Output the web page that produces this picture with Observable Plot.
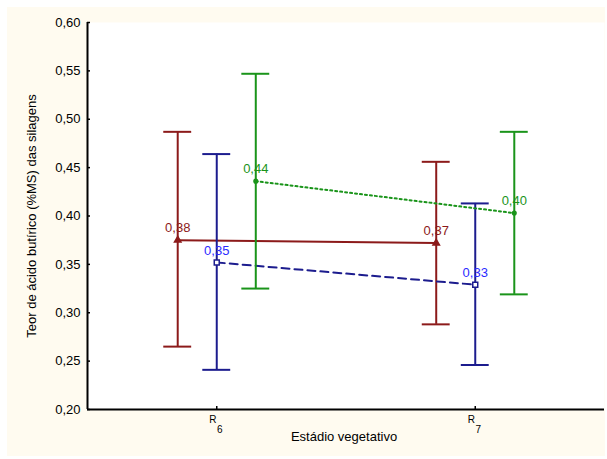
<!DOCTYPE html>
<html><head><meta charset="utf-8">
<script src="https://cdn.jsdelivr.net/npm/d3@7"></script>
<script src="https://cdn.jsdelivr.net/npm/@observablehq/plot@0.6"></script>
<style>
html,body{margin:0;padding:0;background:#fff;}
#wrap{position:relative;width:607px;height:459px;background:#fff;overflow:hidden;}
#bg{position:absolute;left:7px;top:7px;width:598px;height:449px;background:#fffbf0;}
#chart{position:absolute;left:0;top:0;}
</style></head><body>
<div id="wrap"><div id="bg"></div><div id="chart"></div></div>
<script>
// ---- data ----
const categories = ["R6", "R7"];
const catBase = ["R", "R"];
const catSub = ["6", "7"];
const seriesNames = ["S1", "S2", "S3"];

const meanS1 = [0.375, 0.372];
const upperS1 = [0.487, 0.456];
const lowerS1 = [0.265, 0.288];
const labelS1 = ["0,38", "0,37"];

const meanS2 = [0.352, 0.329];
const upperS2 = [0.464, 0.413];
const lowerS2 = [0.241, 0.246];
const labelS2 = ["0,35", "0,33"];

const meanS3 = [0.436, 0.403];
const upperS3 = [0.547, 0.487];
const lowerS3 = [0.325, 0.319];
const labelS3 = ["0,44", "0,40"];

const yTicks = [0.20, 0.25, 0.30, 0.35, 0.40, 0.45, 0.50, 0.55, 0.60];
const yTitle = "Teor de ácido butírico (%MS) das silagens";
const xTitle = "Estádio vegetativo";

// ---- build ----
const seriesData = [
  {mean: meanS1, upper: upperS1, lower: lowerS1, label: labelS1},
  {mean: meanS2, upper: upperS2, lower: lowerS2, label: labelS2},
  {mean: meanS3, upper: upperS3, lower: lowerS3, label: labelS3}
];
const offsets = [-0.151, 0, 0.151];
const styles = [
  {stroke: "#8c1a1a", text: "#8c1a1a", dash: null, symbol: "triangle", r: 2.4, fill: "#8c1a1a"},
  {stroke: "#1c1c8e", text: "#2b2bff", dash: "8,5", symbol: "square", r: 2.8, fill: "white"},
  {stroke: "#1a941a", text: "#1a941a", dash: "2,3", symbol: "circle", r: 1.8, fill: "#1a941a"}
];
const cap = 0.054;

const rowsBySeries = seriesNames.map((s, i) =>
  categories.map((c, j) => ({
    series: s, cat: c, x: j + offsets[i],
    mean: seriesData[i].mean[j], hi: seriesData[i].upper[j], lo: seriesData[i].lower[j],
    label: seriesData[i].label[j]
  }))
);
const xRows = categories.map((c, j) => ({pos: j, base: catBase[j], sub: catSub[j]}));

const font = "'Liberation Sans', Arial, sans-serif";
const marks = [
  Plot.frame({fill: "white", stroke: "none"})
];
rowsBySeries.forEach((rows, i) => {
  const st = styles[i];
  marks.push(
    Plot.ruleX(rows, {x: "x", y1: "lo", y2: "hi", stroke: st.stroke, strokeWidth: 2}),
    Plot.ruleY(rows, {y: "hi", x1: d => d.x - cap, x2: d => d.x + cap, stroke: st.stroke, strokeWidth: 2}),
    Plot.ruleY(rows, {y: "lo", x1: d => d.x - cap, x2: d => d.x + cap, stroke: st.stroke, strokeWidth: 2}),
    Plot.line(rows, {x: "x", y: "mean", stroke: st.stroke, strokeWidth: 2, strokeDasharray: st.dash}),
    Plot.dot(rows, {x: "x", y: "mean", symbol: st.symbol, r: st.r, fill: st.fill, stroke: st.stroke, strokeWidth: 1.5}),
    Plot.text(rows, {x: "x", y: "mean", text: "label", dy: -12, fill: st.text, fontSize: 13, fontFamily: font})
  );
});
marks.push(
  Plot.ruleX([-0.5], {stroke: "black", strokeWidth: 2}),
  Plot.ruleY([0.2], {stroke: "black", strokeWidth: 2}),
  Plot.axisY({ticks: yTicks, tickFormat: d => d3.format(".2f")(d).replace(".", ","), tickSize: -3, tickPadding: 10, fontSize: 13, label: null, stroke: "black", strokeWidth: 1.5}),
  Plot.axisX({ticks: [0, 1], tickFormat: () => "", tickSize: -3, label: null, strokeWidth: 1.5}),
  Plot.text(xRows, {x: "pos", frameAnchor: "bottom", text: "base", dy: 13, dx: -4, fontSize: 10, fontFamily: font}),
  Plot.text(xRows, {x: "pos", frameAnchor: "bottom", text: "sub", dy: 23, dx: 3, fontSize: 10, fontFamily: font}),
  Plot.text([xTitle], {frameAnchor: "bottom", text: d => d, dy: 31, dx: -2, fontSize: 13, fontFamily: font}),
  Plot.text([yTitle], {frameAnchor: "left", text: d => d, rotate: -90, textAnchor: "middle", lineAnchor: "middle", dx: -56, fontSize: 13, fontFamily: font})
);

const chart = Plot.plot({
  width: 607,
  height: 459,
  marginLeft: 87,
  marginRight: 3,
  marginTop: 22,
  marginBottom: 50,
  x: {domain: [-0.5, 1.5], label: null},
  y: {domain: [0.2, 0.6], label: null},
  style: {background: "transparent", fontFamily: font, fontSize: "13px", color: "black"},
  marks
});
document.getElementById("chart").appendChild(chart);
</script>
</body></html>
